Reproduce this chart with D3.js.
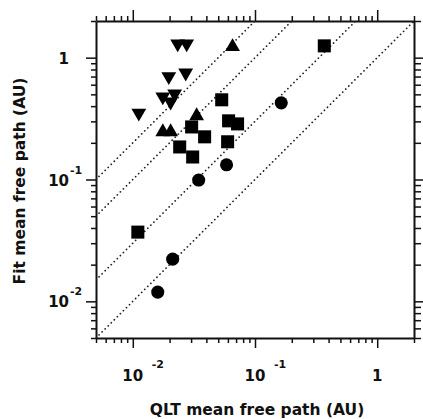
<!DOCTYPE html>
<html>
<head>
<meta charset="utf-8">
<script src="https://cdn.jsdelivr.net/npm/d3@7"></script>
<style>
  body { margin: 0; background: #fff; }
  svg { display: block; }
  .lbl { font-family: "DejaVu Sans", sans-serif; font-weight: bold; fill: #111; }
  .axis path, .axis line { stroke: #111; }
</style>
</head>
<body>
<div id="chart"></div>
<script>
// data (QLT mean free path, Fit mean free path), AU
var squares = [
    [0.369, 1.25], [0.0534, 0.451], [0.0608, 0.303], [0.0720, 0.286],
    [0.0303, 0.270], [0.0387, 0.224], [0.0597, 0.204], [0.0242, 0.185],
    [0.0309, 0.153], [0.0110, 0.0370]
];
var circles = [
    [0.164, 0.426], [0.0585, 0.132], [0.0346, 0.099], [0.0212, 0.0222],
    [0.0160, 0.0119]
];
var upTriangles = [
    [0.0655, 1.23], [0.0333, 0.333], [0.0176, 0.246], [0.0204, 0.246]
];
var downTriangles = [
    [0.0233, 1.30], [0.0276, 1.30], [0.0197, 0.70], [0.0271, 0.75],
    [0.0176, 0.478], [0.0220, 0.505], [0.0204, 0.434], [0.0112, 0.352]
];
// dotted reference lines y = k * x
var ratios = [20, 10, 3, 1];

var majorTicks = [0.01, 0.1, 1];
var tickBase = ["10", "10", "1"];
var tickExp = ["-2", "-1", ""];

var W = 423, H = 419;
var svg = d3.select("#chart").append("svg")
    .attr("width", W).attr("height", H);

var x = d3.scaleLog().domain([0.005, 2]).range([96, 414]);
var y = d3.scaleLog().domain([0.005, 2]).range([338, 21]);

// minor ticks = the usual 1..9 per decade, minus the majors
var xMinor = x.ticks().filter(function (v) { return majorTicks.indexOf(v) < 0; });
var yMinor = y.ticks().filter(function (v) { return majorTicks.indexOf(v) < 0; });

/**
 * draw one side of the frame, minor and major ticks
 */
function side(axisFn, scale, minor, tf, minLen, majLen) {
    var g = svg.append("g").attr("class", "axis").attr("transform", tf);
    g.call(axisFn(scale).tickValues(minor).tickSize(minLen).tickSizeOuter(0).tickFormat(""));
    g.append("g").call(axisFn(scale).tickValues(majorTicks).tickSize(majLen).tickSizeOuter(0).tickFormat(""))
        .select(".domain").remove();
    g.selectAll("line").attr("stroke-width", 1.5);
    g.select(".domain").attr("stroke-width", 2);
    return g;
}

side(d3.axisBottom, x, xMinor, "translate(0,338)", 5, 10);
side(d3.axisTop, x, xMinor, "translate(0,21)", 5, 11);
side(d3.axisLeft, y, yMinor, "translate(96,0)", 5, 10);
side(d3.axisRight, y, yMinor, "translate(414,0)", 7, 9);

// dotted lines, clipped to the frame
svg.append("clipPath").attr("id", "clip").append("rect")
    .attr("x", 96).attr("y", 21).attr("width", 318).attr("height", 317);

var plot = svg.append("g").attr("clip-path", "url(#clip)");
plot.selectAll(".ref").data(ratios).enter().append("line")
    .attr("class", "ref")
    .attr("x1", x(0.005)).attr("y1", function (k) { return y(0.005 * k); })
    .attr("x2", x(2)).attr("y2", function (k) { return y(2 * k); })
    .attr("stroke", "#222")
    .attr("stroke-width", 1.7)
    .attr("stroke-linecap", "round")
    .attr("stroke-dasharray", "0.1,4.2");

function marks(data, type, size, rot) {
    plot.selectAll(null).data(data).enter().append("path")
        .attr("d", d3.symbol().type(type).size(size))
        .attr("transform", function (d) {
            return "translate(" + x(d[0]) + "," + y(d[1]) + ")" + (rot ? " rotate(" + rot + ")" : "");
        })
        .attr("fill", "#000");
}
marks(squares, d3.symbolSquare, 170);
marks(circles, d3.symbolCircle, 135);
marks(upTriangles, d3.symbolTriangle, 95);
marks(downTriangles, d3.symbolTriangle, 95, 180);

// tick labels with superscripts
majorTicks.forEach(function (v, i) {
    svg.append("text").attr("class", "lbl")
        .attr("x", x(v)).attr("y", 381)
        .attr("text-anchor", "middle")
        .style("font-size", "15px")
        .text(tickBase[i]);
    if (tickExp[i]) {
        svg.append("text").attr("class", "lbl")
            .attr("x", x(v) + 19).attr("y", 368)
            .style("font-size", "11px")
            .text(tickExp[i]);
    }
    svg.append("text").attr("class", "lbl")
        .attr("x", 69).attr("y", y(v) + 6)
        .attr("text-anchor", "end")
        .style("font-size", "15px")
        .text(tickBase[i]);
    if (tickExp[i]) {
        svg.append("text").attr("class", "lbl")
            .attr("x", 70).attr("y", y(v) - 6)
            .style("font-size", "11px")
            .text(tickExp[i]);
    }
});

// axis titles
svg.append("text").attr("class", "lbl")
    .attr("x", 257).attr("y", 415)
    .attr("text-anchor", "middle")
    .style("font-size", "15.5px")
    .text("QLT mean free path (AU)");

svg.append("text").attr("class", "lbl")
    .attr("transform", "translate(25,181) rotate(-90)")
    .attr("text-anchor", "middle")
    .style("font-size", "15.5px")
    .text("Fit mean free path (AU)");
</script>
</body>
</html>
